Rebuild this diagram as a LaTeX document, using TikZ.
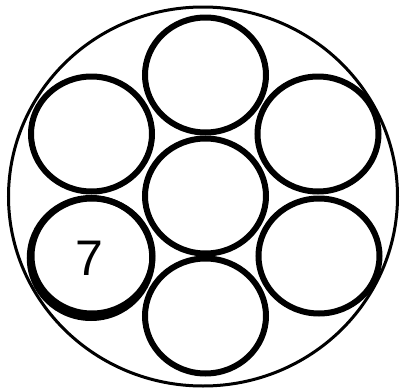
\documentclass[tikz,border=0pt]{standalone}
\usepackage{fontspec}
\setmainfont{Liberation Sans}
\usetikzlibrary{shapes.geometric}
\begin{document}
\begin{tikzpicture}[x=1pt,y=-1pt,
  wire/.style={ellipse,draw=black,line width=6pt,inner sep=0pt,minimum width=121pt,minimum height=115pt},
  sheath/.style={ellipse,draw=black,line width=3pt,inner sep=0pt,minimum width=389pt,minimum height=379pt}]
\useasboundingbox (0,0) rectangle (400,389);
\node[sheath] (outer) at (203,196.5) {};
\node[wire] (top) at (205.5,75) {};
\node[wire] (ul) at (91.5,134) {};
\node[wire] (ur) at (318,134) {};
\node[wire] (c) at (205.5,196) {};
\node[wire,minimum width=122.5pt,minimum height=120pt] (llb) at (91,258) {};
\node[wire] (ll) at (92,256) {};
\node[wire] (lr) at (319,256) {};
\node[wire] (bot) at (205.5,316) {};
\node[font=\fontsize{50}{60}\selectfont,inner sep=0pt] (lab) at (89.5,258) {7};
\end{tikzpicture}
\end{document}
